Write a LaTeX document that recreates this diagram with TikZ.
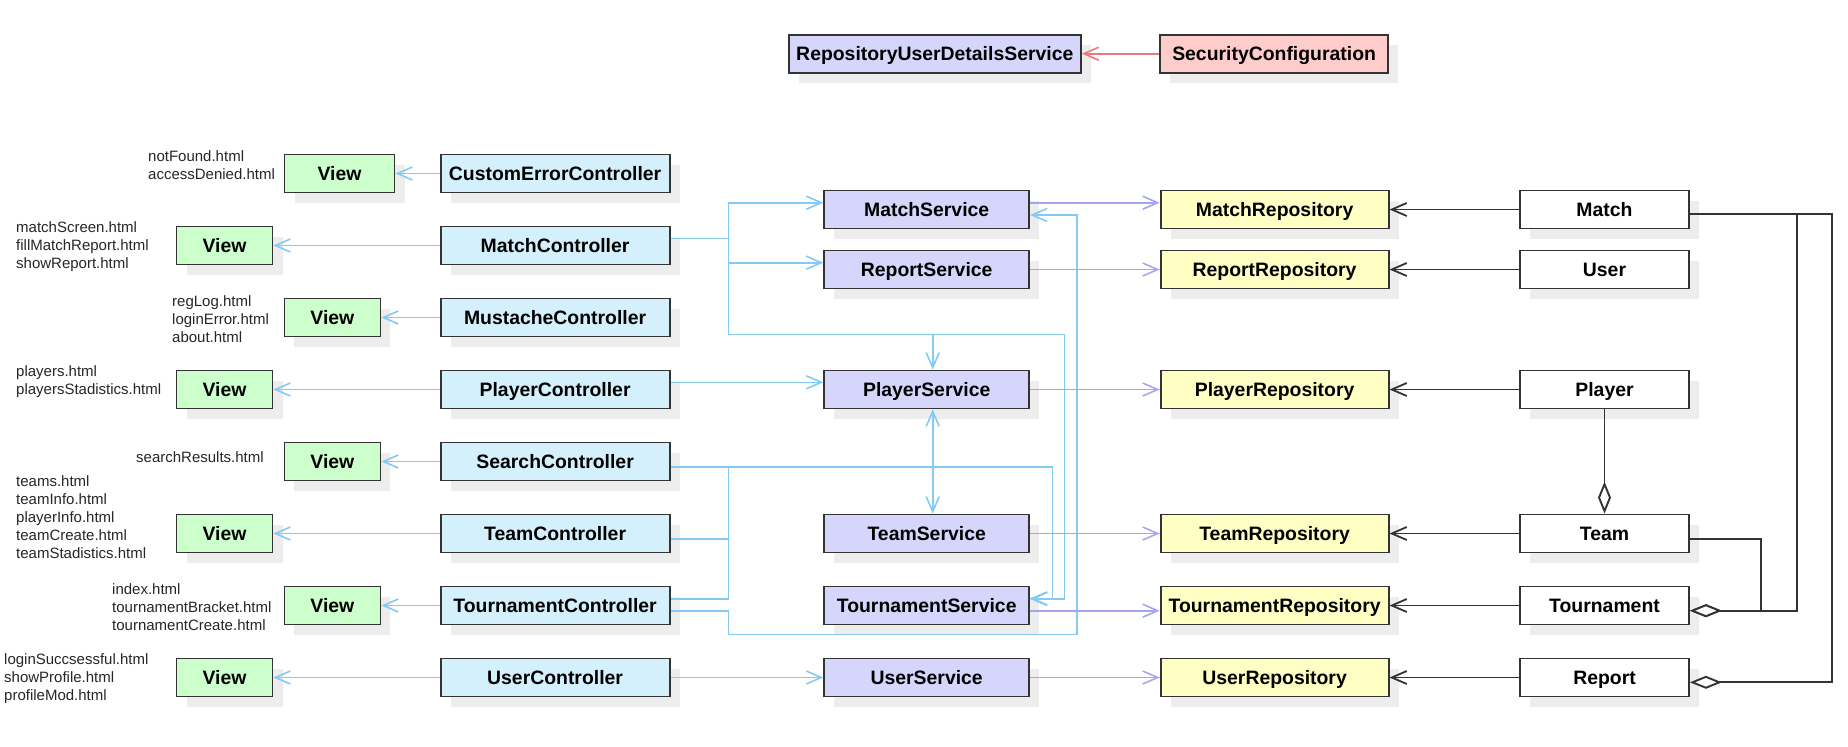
\documentclass[tikz,border=0pt]{standalone}
\usepackage{fontspec}
\setmainfont{Liberation Sans}
\usetikzlibrary{arrows.meta,shadows}
\definecolor{viewc}{HTML}{CCFFCC}
\definecolor{ctrlc}{HTML}{D4F0FD}
\definecolor{svcc}{HTML}{D6D6FD}
\definecolor{repoc}{HTML}{FFFFC4}
\definecolor{secc}{HTML}{FFCCCC}
\definecolor{bluec}{HTML}{84CAF2}
\definecolor{purc}{HTML}{A8A4EE}
\definecolor{redc}{HTML}{EA7B7B}
\begin{document}
\begin{tikzpicture}[x=1pt,y=-1pt,
  box/.style={draw=black!80,line width=1.8pt,minimum height=38pt,inner sep=0pt,
    text height=13.9pt,text depth=0pt,
    font=\fontsize{19.4}{22}\selectfont\bfseries,
    drop shadow={shadow xshift=10pt,shadow yshift=-10pt,fill=black!7,opacity=1}},
  view/.style={box,fill=viewc,minimum width=96pt},
  ctrl/.style={box,fill=ctrlc,minimum width=229pt},
  svc/.style={box,fill=svcc,minimum width=205pt},
  repo/.style={box,fill=repoc,minimum width=228pt},
  ent/.style={box,fill=white,minimum width=169pt},
  files/.style={anchor=west,align=left,inner sep=0pt,text=black!85,font=\fontsize{15}{18}\selectfont},
  blu/.style={draw=bluec,line width=1.6pt,-{Straight Barb[length=15pt,width=13pt]}},
  pur/.style={blu,draw=purc},
  blk/.style={blu,draw=black!80,line width=1.8pt},
  sec/.style={blu,draw=redc},
  agg/.style={draw=black!80,line width=1.9pt,-{Diamond[open,fill=white,length=32pt,width=13pt]}}]
\useasboundingbox (0,0) rectangle (1848,747);
\node[svc,minimum width=292pt] (rs) at (934.8,53.7) {RepositoryUserDetailsService};
\node[box,fill=secc,minimum width=228pt] (sc) at (1274.1,53.7) {SecurityConfiguration};
\node[files] (t1) at (148,165.5) {notFound.html\\accessDenied.html};
\node[files] (t2) at (16,247) {matchScreen.html\\fillMatchReport.html\\showReport.html};
\node[files] (t3) at (172,319) {regLog.html\\loginError.html\\about.html};
\node[files] (t4) at (16,382) {players.html\\playersStadistics.html};
\node[files] (t5) at (136,456.7) {searchResults.html};
\node[files] (t6) at (16,517) {teams.html\\teamInfo.html\\playerInfo.html\\teamCreate.html\\teamStadistics.html};
\node[files] (t7) at (112,607) {index.html\\tournamentBracket.html\\tournamentCreate.html};
\node[files] (t8) at (4,678.7) {loginSuccsessful.html\\showProfile.html\\profileMod.html};
\node[view,minimum width=110pt] (v1) at (339.5,173.5) {View};
\node[view] (v2) at (224.5,245.5) {View};
\node[view] (v3) at (332.4,317.5) {View};
\node[view] (v4) at (224.5,389.5) {View};
\node[view] (v5) at (332.4,461.5) {View};
\node[view] (v6) at (224.5,533.5) {View};
\node[view] (v7) at (332.4,605.5) {View};
\node[view] (v8) at (224.5,677.5) {View};
\node[ctrl] (c1) at (555.1,173.5) {CustomErrorController};
\node[ctrl] (c2) at (555.1,245.5) {MatchController};
\node[ctrl] (c3) at (555.1,317.5) {MustacheController};
\node[ctrl] (c4) at (555.1,389.5) {PlayerController};
\node[ctrl] (c5) at (555.1,461.5) {SearchController};
\node[ctrl] (c6) at (555.1,533.5) {TeamController};
\node[ctrl] (c7) at (555.1,605.5) {TournamentController};
\node[ctrl] (c8) at (555.1,677.5) {UserController};
\node[svc] (s1) at (926.7,209.5) {MatchService};
\node[svc] (s2) at (926.7,269.5) {ReportService};
\node[svc] (s3) at (926.7,389.5) {PlayerService};
\node[svc] (s4) at (926.7,533.5) {TeamService};
\node[svc] (s5) at (926.7,605.5) {TournamentService};
\node[svc] (s6) at (926.7,677.5) {UserService};
\node[repo] (r1) at (1274.6,209.5) {MatchRepository};
\node[repo] (r2) at (1274.6,269.5) {ReportRepository};
\node[repo] (r3) at (1274.6,389.5) {PlayerRepository};
\node[repo] (r4) at (1274.6,533.5) {TeamRepository};
\node[repo] (r5) at (1274.6,605.5) {TournamentRepository};
\node[repo] (r6) at (1274.6,677.5) {UserRepository};
\node[ent] (e1) at (1604.5,209.5) {Match};
\node[ent] (e2) at (1604.5,269.5) {User};
\node[ent] (e3) at (1604.5,389.5) {Player};
\node[ent] (e4) at (1604.5,533.5) {Team};
\node[ent] (e5) at (1604.5,605.5) {Tournament};
\node[ent] (e6) at (1604.5,677.5) {Report};
\draw[sec] (sc) -- (rs);
\draw[blu] (c1) -- (v1);
\draw[blu] (c2) -- (v2);
\draw[blu] (c3) -- (v3);
\draw[blu] (c4) -- (v4);
\draw[blu] (c5) -- (v5);
\draw[blu] (c6) -- (v6);
\draw[blu] (c7) -- (v7);
\draw[blu] (c8) -- (v8);
\draw[blu] (c2.east |- 0,238.5) -| (728.3,202.7) -- (s1.west |- 0,202.7);
\draw[blu] (c2.east |- 0,238.5) -| (728.3,262.7) -- (s2.west |- 0,262.7);
\draw[blu] (c2.east |- 0,238.5) -| (728.3,334.3) -| (s3.north -| 932.7,0);
\draw[blu] (c2.east |- 0,238.5) -| (728.3,334.3) -| (1064.3,598.7) -- (s5.east |- 0,598.7);
\draw[blu] (c4.east |- 0,382.3) -- (s3.west |- 0,382.3);
\draw[blu] (c5.east |- 0,466.7) -| (1052.3,598.7) -- (s5.east |- 0,598.7);
\draw[blu] (c5.east |- 0,466.7) -| (s3.south -| 932.7,0);
\draw[blu] (c5.east |- 0,466.7) -| (s4.north -| 932.7,0);
\draw[blu] (c6.east |- 0,538.7) -| (728.3,466.7) -| (1052.3,598.7) -- (s5.east |- 0,598.7);
\draw[blu] (c7.east |- 0,598.7) -| (728.3,466.7) -| (1052.3,598.7) -- (s5.east |- 0,598.7);
\draw[blu] (c7.east |- 0,610.7) -| (728.3,634.3) -| (1076.7,215) -- (s1.east |- 0,215);
\draw[blu] (c8) -- (s6);
\draw[pur] (s1.east |- 0,202.7) -- (r1.west |- 0,202.7);
\draw[pur] (s2) -- (r2);
\draw[pur] (s3) -- (r3);
\draw[pur] (s4) -- (r4);
\draw[pur] (s5.east |- 0,610.7) -- (r5.west |- 0,610.7);
\draw[pur] (s6) -- (r6);
\draw[blk] (e1) -- (r1);
\draw[blk] (e2) -- (r2);
\draw[blk] (e3) -- (r3);
\draw[blk] (e4) -- (r4);
\draw[blk] (e5) -- (r5);
\draw[blk] (e6) -- (r6);
\draw[agg] (e3) -- (e4);
\draw[agg] (e1.east |- 0,214.3) -| (1796.6,610.7) -- (e5.east |- 0,610.7);
\draw[agg] (e4.east |- 0,538.7) -| (1760.8,610.7) -- (e5.east |- 0,610.7);
\draw[agg] (e1.east |- 0,214.3) -| (1832.4,682.3) -- (e6.east |- 0,682.3);
\end{tikzpicture}
\end{document}
